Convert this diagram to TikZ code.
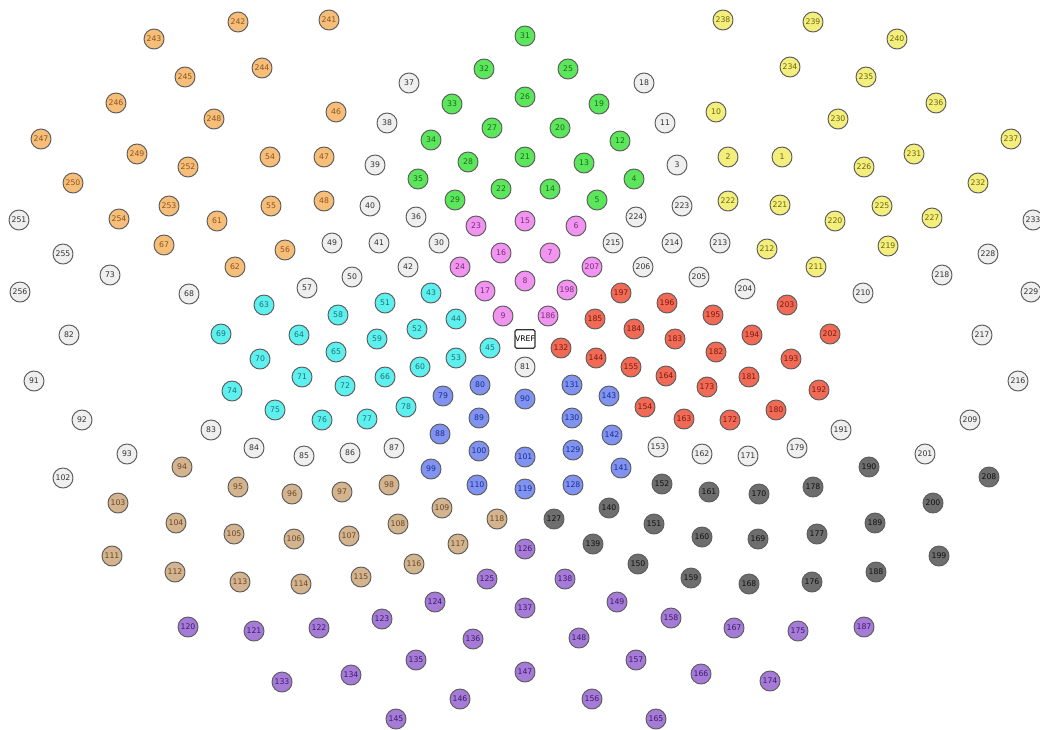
\documentclass[tikz,border=0pt]{standalone}
\usepackage{fontspec}
\setmainfont{DejaVu Sans}
\usepackage{tikz}
\definecolor{eorange}{HTML}{F6BE78}
\definecolor{torange}{HTML}{8A5520}
\definecolor{eplain}{HTML}{EFEFEF}
\definecolor{tplain}{HTML}{333333}
\definecolor{egreen}{HTML}{5BE65B}
\definecolor{tgreen}{HTML}{1C6A1C}
\definecolor{eyellow}{HTML}{F4EF7C}
\definecolor{tyellow}{HTML}{6A6612}
\definecolor{epink}{HTML}{F094F0}
\definecolor{tpink}{HTML}{7A2A7A}
\definecolor{ecyan}{HTML}{5EF0EE}
\definecolor{tcyan}{HTML}{1A7474}
\definecolor{eblue}{HTML}{8093F0}
\definecolor{tblue}{HTML}{1C2C8C}
\definecolor{ered}{HTML}{F06A55}
\definecolor{tred}{HTML}{7A1A10}
\definecolor{etan}{HTML}{D4B48E}
\definecolor{ttan}{HTML}{684628}
\definecolor{edark}{HTML}{6E6E6E}
\definecolor{tdark}{HTML}{111111}
\definecolor{epurple}{HTML}{A67BD8}
\definecolor{tpurple}{HTML}{3A1A6A}
\definecolor{erim}{HTML}{5E5E5E}
\tikzset{
  elnode/.style={circle,draw=erim,line width=0.7pt,minimum size=5mm,inner sep=0pt,
    font=\fontsize{5.5}{6}\selectfont},
  orangenode/.style={elnode,fill=eorange,text=torange},
  plainnode/.style={elnode,fill=eplain,text=tplain},
  greennode/.style={elnode,fill=egreen,text=tgreen},
  yellownode/.style={elnode,fill=eyellow,text=tyellow},
  pinknode/.style={elnode,fill=epink,text=tpink},
  cyannode/.style={elnode,fill=ecyan,text=tcyan},
  bluenode/.style={elnode,fill=eblue,text=tblue},
  rednode/.style={elnode,fill=ered,text=tred},
  tannode/.style={elnode,fill=etan,text=ttan},
  darknode/.style={elnode,fill=edark,text=tdark},
  purplenode/.style={elnode,fill=epurple,text=tpurple},
  refnode/.style={rectangle,rounded corners=1pt,draw=black!80,line width=0.9pt,fill=white,
    minimum size=4.6mm,inner sep=0pt,font=\fontsize{5.5}{6}\selectfont},
  every picture/.style={line cap=round,line join=round}
}
\begin{document}
\begin{tikzpicture}[x=0.025cm,y=-0.025cm]
  \useasboundingbox (0,0) rectangle (1040,730);
  % left front
  \foreach \n/\px/\py in {46/336/112,47/324/157,48/324/201,54/270/157,55/271/206,56/285/250,
      61/217/221,62/235/267,67/164/245,241/329/20,242/238/22,243/154/39,244/262/68,245/185/77,
      246/116/103,247/41/139,248/214/119,249/137/154,250/73/183,252/188/167,253/169/206,254/119/219}
    \node[orangenode] (e\n) at (\px,\py) {\n};
  % right front
  \foreach \n/\px/\py in {1/782/157,2/728/157,10/716/112,211/816/267,212/767/249,219/888/246,
      220/835/221,221/780/205,222/728/201,225/882/206,226/864/167,227/932/218,230/838/119,
      231/914/154,232/978/183,234/790/67,235/866/77,236/936/103,237/1011/139,238/723/20,
      239/813/22,240/897/39}
    \node[yellownode] (e\n) at (\px,\py) {\n};
  % frontal
  \foreach \n/\px/\py in {4/634/179,5/597/200,12/620/141,13/584/163,14/550/189,19/599/104,
      20/560/128,21/525/157,22/501/189,25/568/69,26/525/97,27/492/128,28/468/162,29/455/200,
      31/525/36,32/484/69,33/452/104,34/431/140,35/418/179}
    \node[greennode] (e\n) at (\px,\py) {\n};
  % central
  \foreach \n/\px/\py in {6/576/226,7/550/253,8/525/281,9/503/316,15/525/221,16/501/253,
      17/485/291,23/476/226,24/460/267,186/548/316,198/567/290,207/592/267}
    \node[pinknode] (e\n) at (\px,\py) {\n};
  % left central
  \foreach \n/\px/\py in {43/431/293,44/456/319,45/490/348,51/385/303,52/417/329,53/456/358,
      58/338/315,59/377/339,60/420/367,63/264/305,64/299/335,65/336/352,66/385/377,69/221/334,
      70/260/359,71/302/377,72/345/386,74/232/391,75/275/410,76/322/420,77/367/419,78/406/407}
    \node[cyannode] (e\n) at (\px,\py) {\n};
  % right central
  \foreach \n/\px/\py in {132/561/348,144/596/358,154/645/407,155/631/367,163/684/419,
      164/666/376,172/730/420,173/707/387,180/776/410,181/749/377,182/716/352,183/675/339,
      184/634/329,185/595/319,192/819/390,193/791/359,194/752/335,195/713/315,196/667/303,
      197/621/293,202/830/334,203/787/305}
    \node[rednode] (e\n) at (\px,\py) {\n};
  % parietal
  \foreach \n/\px/\py in {79/443/396,80/480/385,88/440/434,89/479/418,90/525/399,99/431/469,
      100/479/451,101/525/457,110/477/485,119/525/489,128/573/485,129/573/450,130/572/418,
      131/572/385,141/621/468,142/612/435,143/609/396}
    \node[bluenode] (e\n) at (\px,\py) {\n};
  % left temporal
  \foreach \n/\px/\py in {94/182/467,95/238/487,96/292/494,97/342/492,98/389/485,103/118/503,
      104/176/523,105/234/534,106/294/539,107/349/536,108/398/524,109/442/508,111/112/556,
      112/175/572,113/240/582,114/301/584,115/361/577,116/414/564,117/458/544,118/497/519}
    \node[tannode] (e\n) at (\px,\py) {\n};
  % right temporal
  \foreach \n/\px/\py in {127/554/519,139/593/544,140/609/508,150/638/564,151/654/524,
      152/662/484,159/691/578,160/702/537,161/709/492,168/749/584,169/758/539,170/759/494,
      176/812/582,177/817/534,178/813/487,188/876/572,189/875/523,190/869/467,199/939/556,
      200/933/503,208/989/477}
    \node[darknode] (e\n) at (\px,\py) {\n};
  % occipital
  \foreach \n/\px/\py in {120/188/627,121/254/631,122/319/628,123/382/619,124/435/602,
      125/487/579,126/525/549,133/282/682,134/351/675,135/416/660,136/473/639,137/525/608,
      138/565/579,145/396/719,146/460/699,147/525/672,148/579/638,149/617/602,156/592/699,
      157/636/660,158/671/618,165/656/719,166/701/674,167/734/628,174/770/681,175/798/631,
      187/864/627}
    \node[purplenode] (e\n) at (\px,\py) {\n};
  % unassigned
  \foreach \n/\px/\py in {3/677/165,11/665/123,18/644/83,30/439/243,36/416/217,37/409/83,
      38/387/123,39/375/165,40/370/206,41/379/243,42/408/267,49/332/243,50/352/277,57/307/288,
      68/189/294,73/110/275,81/525/367,82/69/335,83/211/430,84/254/448,85/304/456,86/350/453,
      87/394/448,91/34/381,92/82/420,93/127/454,102/63/478,153/658/447,162/702/454,171/748/456,
      179/797/448,191/841/430,201/925/454,204/745/289,205/699/277,206/643/267,209/970/420,
      210/863/293,213/720/243,214/672/243,215/613/243,216/1018/381,217/982/335,218/942/275,
      223/682/206,224/636/217,228/988/254,229/1031/292,233/1033/220,251/19/220,255/63/254,
      256/20/292}
    \node[plainnode] (e\n) at (\px,\py) {\n};
  \node[refnode] (vref) at (525,339) {VREF};
\end{tikzpicture}
\end{document}
